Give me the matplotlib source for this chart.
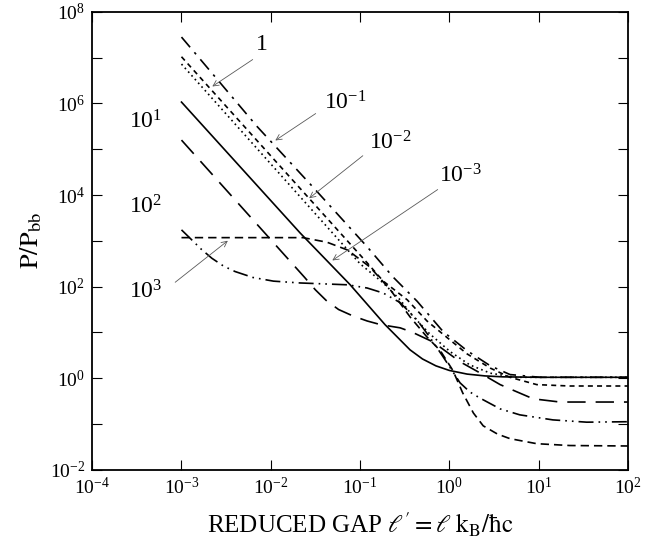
import matplotlib.pyplot as plt
import numpy as np

plt.rcParams['font.family'] = ['Liberation Serif', 'DejaVu Serif']
plt.rcParams['mathtext.fontset'] = 'stix'

# curves, stored as log10(gap), log10(P/Pbb)
solid_lx = [-3.0, -1.67, -1.11, -0.72, -0.44, -0.30, -0.15, 0.0, 0.20, 0.40, 0.60, 1.0, 2.0]
solid_ly = [6.03, 3.17, 2.04, 1.17, 0.62, 0.42, 0.27, 0.17, 0.09, 0.05, 0.03, 0.02, 0.02]

longdash_lx = [-3.0, -1.62, -1.50, -1.38, -1.24, -1.08, -0.92, -0.77, -0.55, -0.41, -0.18, 0.12, 0.34, 0.57, 0.76, 0.94, 1.24, 2.0]
longdash_ly = [5.20, 2.20, 1.93, 1.70, 1.50, 1.36, 1.25, 1.17, 1.10, 1.00, 0.79, 0.36, 0.12, -0.14, -0.30, -0.45, -0.52, -0.52]

dash_lx = [-3.0, -1.64, -1.37, -1.14, -0.89, -0.66, -0.44, -0.25, -0.10, 0.04, 0.15, 0.27, 0.38, 0.54, 0.68, 0.98, 1.35, 2.0]
dash_ly = [3.07, 3.07, 2.97, 2.80, 2.43, 1.93, 1.34, 0.90, 0.60, 0.17, -0.32, -0.76, -1.04, -1.22, -1.32, -1.43, -1.47, -1.48]

ddot_lx = [-3.0, -2.90, -2.78, -2.66, -2.53, -2.40, -2.20, -1.97, -1.67, -1.14, -0.92, -0.74, -0.55, -0.36, -0.22, -0.07, 0.12, 0.23, 0.34, 0.57, 0.79, 1.16, 1.54, 2.0]
ddot_ly = [3.24, 3.05, 2.82, 2.62, 2.45, 2.33, 2.20, 2.12, 2.08, 2.04, 1.97, 1.86, 1.65, 1.27, 0.90, 0.47, -0.10, -0.30, -0.43, -0.67, -0.80, -0.91, -0.96, -0.95]

dashdot_lx = [-3.0, -2.15, -1.53, -0.92, -0.63, -0.36, -0.07, 0.20, 0.46, 0.68, 1.02, 2.0]
dashdot_ly = [7.45, 5.49, 4.18, 2.87, 2.21, 1.68, 1.02, 0.60, 0.27, 0.08, 0.02, 0.02]

shortdash_lx = [-3.0, -0.92, -0.74, -0.47, -0.25, -0.02, 0.20, 0.46, 0.68, 0.98, 1.35, 2.0]
shortdash_ly = [7.02, 2.52, 2.12, 1.71, 1.25, 0.88, 0.53, 0.22, 0.02, -0.14, -0.17, -0.17]

dotted_lx = [-3.0, -1.0, -0.74, -0.55, -0.41, -0.22, 0.01, 0.23, 0.46, 0.74, 2.0]
dotted_ly = [6.86, 2.50, 2.08, 1.71, 1.36, 0.97, 0.58, 0.29, 0.11, 0.02, 0.02]

curves = [
    (solid_lx, solid_ly, '-'),
    (longdash_lx, longdash_ly, (0, (11, 6))),
    (dash_lx, dash_ly, (0, (5, 3))),
    (ddot_lx, ddot_ly, (0, (9, 3, 1, 3, 1, 3))),
    (dashdot_lx, dashdot_ly, (0, (8, 4, 1.5, 4))),
    (shortdash_lx, shortdash_ly, (0, (3, 2.5))),
    (dotted_lx, dotted_ly, (0, (1, 2))),
]

fig = plt.figure(figsize=(6.54, 5.40), dpi=100)
ax = fig.add_axes([0.141, 0.130, 0.819, 0.848])

for lx, ly, ls in curves:
    ax.plot(10 ** np.array(lx), 10 ** np.array(ly), color='black', lw=1.2, linestyle=ls)

ax.set_xscale('log')
ax.set_yscale('log')
ax.set_xlim(1e-4, 1e2)
ax.set_ylim(1e-2, 1e8)

xt = [1e-4, 1e-3, 1e-2, 1e-1, 1e0, 1e1, 1e2]
ax.set_xticks(xt)
ax.set_xticklabels([r'$\mathregular{10^{%d}}$' % e for e in range(-4, 3)])
yt = [10.0 ** e for e in range(-2, 9)]
ax.set_yticks(yt)
ax.set_yticklabels([r'$\mathregular{10^{%d}}$' % e if e % 2 == 0 else '' for e in range(-2, 9)])
ax.minorticks_off()
ax.tick_params(direction='in', length=7, width=0.8, labelsize=14, top=True, right=True, pad=5)
for s in ax.spines.values():
    s.set_linewidth(1.3)

ax.set_xlabel(r"REDUCED GAP $\ell' = \ell\ \mathrm{k_B/\hbar c}$", fontsize=18, labelpad=9)
ax.set_ylabel(r'$\mathrm{P/P_{bb}}$', fontsize=19, labelpad=4)

# curve labels with leader lines (figure pixel coords from the top-left)
def px(x, y):
    return (x / 654, 1 - y / 540)

labels = [
    ('1', (262, 45), (255, 58), (210, 88)),
    (r'$\mathregular{10^{-1}}$', (345, 103), (318, 112), (273, 142)),
    (r'$\mathregular{10^{-2}}$', (390, 143), (365, 154), (307, 200)),
    (r'$\mathregular{10^{-3}}$', (460, 176), (440, 188), (330, 262)),
    (r'$\mathregular{10^{3}}$', (146, 292), (173, 284), (230, 239)),
]
for txt, tp, p0, p1 in labels:
    fig.text(*px(*tp), txt, fontsize=17, ha='center', va='center')
    ax.annotate('', xy=px(*p1), xytext=px(*p0), xycoords='figure fraction',
                textcoords='figure fraction',
                arrowprops=dict(arrowstyle='->', color='0.35', lw=0.6))

fig.text(*px(146, 122), r'$\mathregular{10^{1}}$', fontsize=17, ha='center', va='center')
fig.text(*px(146, 207), r'$\mathregular{10^{2}}$', fontsize=17, ha='center', va='center')

fig.savefig('out.png', dpi=100)
